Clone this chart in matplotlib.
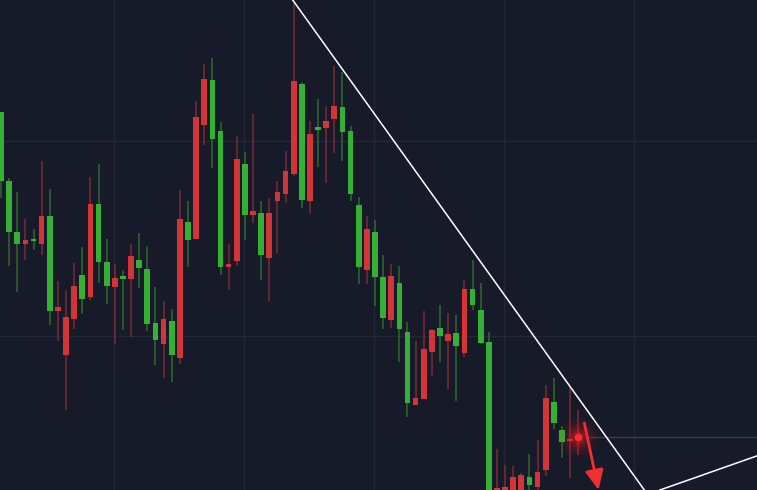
import numpy as np
import matplotlib.pyplot as plt

# price readings (arbitrary units, higher = higher price)
opens = [378, 309, 258, 246, 250.5, 246, 274, 179, 135, 171, 215, 193, 286, 228, 203, 214, 211, 230, 221, 167,
         146, 169, 132, 268, 251, 365, 410, 359, 223, 229, 326, 275, 277, 232, 289, 296, 316, 406, 289, 363,
         362, 371, 383, 359, 285, 220, 258, 213, 170, 207, 158, 85, 91, 138, 162, 149, 157, 137, 201, 180,
         148, -10, -10, -5, -5, 13, 3, 20, 88, 60, 49, 52]
closes = [309, 258, 246, 250, 249, 274, 179, 183, 173, 204, 191, 286, 228, 204, 212, 211, 234, 222, 166, 150,
          171, 135, 271, 250, 373, 411, 351, 223, 226, 331, 275, 279, 235, 277, 298, 319, 409, 290, 356, 360,
          369, 384, 358, 296, 223, 261, 213, 172, 214, 161, 87, 92, 141, 160, 154, 156, 144, 201, 185, 147,
          -20, 2, 3, 13, 15, 5, 18, 92, 67, 48, 50.5, 54]
highs = [378, 312, 298, 271, 261, 329, 301, 209, 199, 227, 243, 313, 326, 251, 226, 220, 246, 257, 244, 203,
         189, 181, 300, 289, 389, 426, 432, 368, 246, 354, 338, 376, 289, 292, 309, 339, 487, 408, 369, 391,
         383, 424, 418, 364, 293, 274, 270, 235, 226, 224, 168, 149, 179, 161, 185, 177, 175, 210, 230, 207,
         158, 41, 25, 24, 17, 36, 50, 105, 112, 64, 103, 80]
lows = [292, 224, 198, 230, 240, 235, 165, 149, 80, 161, 176, 190, 207, 186, 146, 160, 153, 202, 159, 125,
        112, 108, 126, 223, 251, 345, 322, 215, 200, 224, 250, 267, 210, 189, 237, 287, 314, 282, 277, 323,
        307, 337, 329, 289, 206, 206, 184, 161, 162, 128, 73, 85, 91, 114, 128, 101, 89, 133, 180, 146,
        -30, -20, -20, -15, -15, -5, -2, 14, 61, 32, 12, 35]

trend_x = [35.88, 79.13]
trend_y = [490, 0]
support_x = [81.06, 92.95]
support_y = [0, 34]
last_price = 53
arrow_from = (71.75, 67)
arrow_to = (73.5, 0)

bg = '#171b29'
up_body, up_wick = '#d23437', '#7c2a32'
dn_body, dn_wick = '#34b034', '#2b6b2d'

fig = plt.figure(figsize=(7.57, 4.90), dpi=100)
fig.patch.set_facecolor(bg)
ax = fig.add_axes([0, 0, 1, 1])
ax.set_facecolor(bg)

o = np.array(opens, float)
c = np.array(closes, float)
h = np.array(highs, float)
l = np.array(lows, float)
x = np.arange(len(o))
up = c >= o

# grid
ax.set_xticks([13.9, 29.9, 45.9, 61.9, 77.9])
ax.set_yticks([154, 349])
ax.grid(True, color='#232838', linewidth=1)
ax.tick_params(length=0, labelleft=False, labelbottom=False)
for s in ax.spines.values():
    s.set_visible(False)
ax.set_axisbelow(True)

# wicks
ax.vlines(x[up], l[up], h[up], color=up_wick, linewidth=1.1, zorder=2)
ax.vlines(x[~up], l[~up], h[~up], color=dn_wick, linewidth=1.1, zorder=2)

# bodies
body_h = np.maximum(np.abs(c - o), 1.8)
body_b = np.minimum(o, c)
ax.bar(x[up], body_h[up], bottom=body_b[up], width=0.7, color=up_body, linewidth=0, zorder=3)
ax.bar(x[~up], body_h[~up], bottom=body_b[~up], width=0.7, color=dn_body, linewidth=0, zorder=3)

# trend lines
ax.axline((trend_x[0], trend_y[0]), (trend_x[1], trend_y[1]), color='white', linewidth=1.1, zorder=4)
ax.axline((support_x[0], support_y[0]), (support_x[1], support_y[1]), color='white', linewidth=1.1, zorder=4)

# last price line
ax.hlines(last_price, x[-1] + 1.1, 100, color='#373c4b', linewidth=1, zorder=1)

# glow on last candle
for r, a in zip([900, 600, 380, 220, 110], [0.04, 0.06, 0.09, 0.14, 0.22]):
    ax.scatter([x[-1]], [last_price], s=r, color='#ff1a1a', alpha=a, linewidths=0, zorder=5)
ax.scatter([x[-1]], [last_price], s=32, color='#ff2a2a', linewidths=0, zorder=6)

# arrow
ax.annotate('', xy=arrow_to, xytext=arrow_from,
            arrowprops=dict(arrowstyle='-|>,head_length=1.2,head_width=0.55', color='#f03030',
                            linewidth=2, shrinkA=0, shrinkB=0), zorder=6)

ax.set_xlim(-0.123, 92.99)
ax.set_ylim(0, 490)

fig.savefig('out.png', dpi=100, facecolor=bg)
